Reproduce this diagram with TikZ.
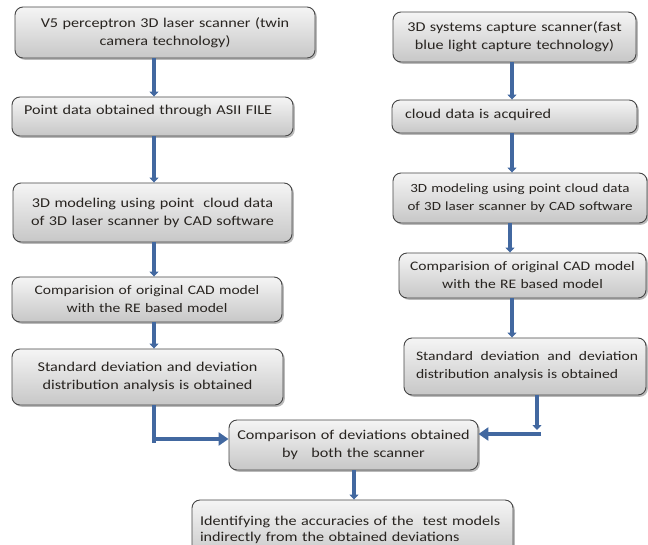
\documentclass[tikz,border=0pt]{standalone}
\usepackage{fontspec}
\setmainfont{Carlito}[FakeStretch=1.2]
\usetikzlibrary{arrows.meta,shadows,calc}
\definecolor{arrowblue}{RGB}{66,104,160}
\definecolor{boxline}{RGB}{70,70,70}
\definecolor{txt}{RGB}{40,36,32}
\hyphenpenalty=10000
\exhyphenpenalty=10000
\begin{document}
\begin{tikzpicture}[x=1pt,y=-1pt,
  flowbox/.style={draw=boxline, line width=0.9pt, rounded corners=8pt,
    top color=white!96!black, bottom color=black!22,
    drop shadow={shadow xshift=1.8pt, shadow yshift=-1.8pt, fill=black!45, opacity=0.6},
    inner xsep=8pt, inner ysep=0pt, align=center, text=txt,
    font=\fontsize{13.5}{18}\selectfont},
  smallfont/.style={font=\fontsize{12.5}{18}\selectfont},
  midfont/.style={font=\fontsize{13}{18}\selectfont},
  varrow/.style={draw=arrowblue, line width=3.6pt, -{Triangle[width=9pt,length=5pt]}},
  harrow/.style={draw=arrowblue, line width=4pt, -{Triangle[width=13pt,length=10pt]}},
  hline/.style={draw=arrowblue, line width=4pt}]
\useasboundingbox (0,0) rectangle (648,544);
\fill[white] (0,0) rectangle (648,544);

% left column
\node[flowbox, text width=284pt, minimum height=51pt] (L1) at (165,32.5)
  {V5 perceptron 3D laser scanner (twin\\camera technology)};
\node[flowbox, text width=265pt, minimum height=39pt, align=left, text depth=13pt] (L2) at (152.5,116.5)
  {\hspace*{4pt}Point data obtained through ASII FILE};
\node[flowbox, text width=263pt, minimum height=59pt] (L3) at (152.5,212.5)
  {3D modeling using point\ \ cloud data\\of 3D laser scanner by CAD software};
\node[flowbox, midfont, text width=254pt, minimum height=45pt] (L4) at (147,299.5)
  {Comparision of original CAD model\\with the RE based model};
\node[flowbox, text width=255pt, minimum height=56pt] (L5) at (147.5,377)
  {Standard deviation and deviation\\distribution analysis is obtained};

% right column
\node[flowbox, text width=227pt, minimum height=50pt] (R1) at (514.5,37)
  {3D systems capture scanner(fast\\blue light capture technology)};
\node[flowbox, text width=229pt, minimum height=33pt, align=left, text depth=6pt] (R2) at (514.5,116.5)
  {\hspace*{5pt}cloud data is acquired};
\node[flowbox, smallfont, text width=238pt, minimum height=50pt] (R3) at (520,198)
  {3D modeling using point cloud data\\of 3D laser scanner by CAD software};
\node[flowbox, midfont, text width=231pt, minimum height=45pt] (R4) at (522.5,275.5)
  {Comparision of original CAD model\\with the RE based model};
\node[flowbox, midfont, text width=226pt, minimum height=57pt, align=left, text depth=22pt] (R5) at (525,366.5)
  {\hspace*{4pt}Standard\hfill deviation\hfill and\hfill deviation\\\hspace*{4pt}distribution analysis is obtained};

% bottom
\node[flowbox, text width=233pt, minimum height=50pt] (C) at (353.5,445)
  {Comparison of deviations obtained\\by\ \ \ both the scanner};
\node[flowbox, text width=305pt, minimum height=60pt, align=left, text depth=18pt,
  font=\fontsize{13.5}{15.5}\selectfont] (F) at (352.5,530)
  {Identifying the accuracies of the\ \ test models\\indirectly from the obtained deviations};

% arrow columns
\coordinate (xl) at (154,0);
\coordinate (xr) at (512,0);
\coordinate (xr2) at (537,0);
\coordinate (xc) at (354,0);

\draw[varrow] (xl |- L1.south) -- (xl |- L2.north);
\draw[varrow] (xl |- L2.south) -- (xl |- L3.north);
\draw[varrow] (xl |- L3.south) -- (xl |- L4.north);
\draw[varrow] (xl |- L4.south) -- (xl |- L5.north);

\draw[varrow] (xr |- R1.south) -- (xr |- R2.north);
\draw[varrow] (xr |- R2.south) -- (xr |- R3.north);
\draw[varrow] ($(xr |- R3.south)+(-2,0)$) -- ($(xr |- R4.north)+(-2,0)$);
\draw[varrow] (xr |- R4.south) -- (xr |- R5.north);

% left elbow
\coordinate (jl) at (154,439);
\coordinate (jlb) at (154,443);
\draw[hline] (xl |- L5.south) -- (jlb);
\draw[harrow] ($(jl)+(-2,0)$) -- (jl -| C.west);

% right elbow
\coordinate (jr) at (537,430);
\coordinate (jrh) at (541,434);
\draw[varrow] (xr2 |- R5.south) -- (jr);
\draw[harrow] (jrh) -- (jrh -| C.east);

\draw[varrow] (xc |- C.south) -- (xc |- F.north);
\end{tikzpicture}
\end{document}
